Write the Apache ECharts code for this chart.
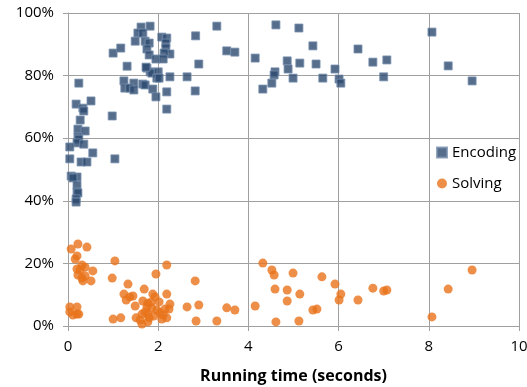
<!DOCTYPE html>
<html>
<head>
<meta charset="utf-8">
<script src="https://cdn.jsdelivr.net/npm/echarts@6/dist/echarts.min.js"></script>
<style>
  html, body { margin: 0; padding: 0; background: #fff; }
  #chart { width: 527px; height: 387px; }
</style>
</head>
<body>
<div id="chart"></div>
<script>
// running time (s), share (%)
var encoding = [
  [1.62,95.5],[1.82,95.8],[1.55,93.6],[1.66,93.6],[1.49,91],[1.71,91],[1.80,90.4],[1.75,88.5],
  [1.80,86.6],[1.95,85.3],[2.08,92.3],[2.19,92],[2.17,90.4],[2.17,88.8],[2.26,86.9],[2.13,87.2],
  [2.11,85.3],[1.0,87.2],[1.17,88.8],[1.31,83],[2.83,92.7],[3.30,95.8],[2.90,83.7],[3.52,87.9],
  [3.70,87.5],[4.15,85.6],[1.75,82.4],[1.82,81.2],[1.86,80.8],[2.0,81.2],[1.97,79.2],[2.02,79.2],
  [2.26,79.6],[2.64,79.6],[1.24,78.3],[1.46,77.6],[1.66,77.3],[1.71,77],[1.26,76],[1.37,76],
  [1.46,75.4],[1.88,75.7],[2.19,74.8],[2.82,75.1],[1.95,73.2],[2.19,69.3],[0.98,67.1],[1.04,53.4],
  [0.24,77.6],[0.18,70.9],[0.33,69.6],[0.35,68.7],[0.51,71.9],[0.27,65.8],[0.22,62.9],[0.38,62.3],
  [0.22,60.4],[0.24,59.7],[0.20,58.5],[0.35,58.1],[0.04,57.2],[0.55,55.3],[0.04,53.4],[0.29,52.4],
  [0.42,52.4],[0.07,47.9],[0.20,47.6],[0.11,47.3],[0.20,45],[0.20,42.8],[0.22,42.5],[0.18,40.6],
  [0.18,39.6],[1.73,82.7],
  [4.61,96.2],[5.12,95.2],[5.43,89.5],[4.86,84.7],[5.14,84],[5.50,83.7],[4.88,82.1],[4.59,81.2],
  [4.57,80.2],[4.99,79.2],[5.65,79.2],[5.92,82.1],[6.01,78.9],[6.05,77.6],[6.43,88.5],[6.76,84.3],
  [7.07,85],[7.0,79.6],[8.07,93.9],[8.43,83.1],[8.96,78.3],[4.52,77.6],[4.32,75.7]
];
var solving = [
  [0.07,24.6],[0.22,26.2],[0.42,25.2],[0.20,22.4],[0.16,21.4],[0.31,19.5],[0.38,18.8],[0.20,18.2],
  [0.27,17.9],[0.55,17.6],[0.22,16.3],[0.38,16],[0.31,15.3],[0.33,14.4],[0.51,14.4],[1.04,20.8],
  [0.98,15.3],[2.19,19.5],[1.95,16.6],[1.33,13.4],[1.69,11.8],[2.82,14.4],[1.24,10.2],[1.44,9.6],
  [1.37,9.3],[1.88,10.2],[1.93,9.3],[2.19,10.2],[1.29,8.3],[1.66,8],[1.77,7.3],[2.02,7.7],
  [2.26,7],[1.49,6.4],[1.75,6.1],[1.86,5.8],[1.97,5.1],[2.15,5.4],[2.24,5.4],[2.64,6.1],
  [2.90,6.7],[3.52,5.8],[3.70,5.1],[4.15,6.4],[0.04,6.1],[0.20,6.1],[0.04,4.5],[0.20,3.8],
  [0.24,3.8],[0.11,3.5],[1.71,4.5],[1.77,3.8],[1.64,3.8],[2.04,4.2],[2.11,3.5],[1.51,2.6],
  [1.60,1.9],[1.77,1.3],[1.64,0.6],[1.0,2.2],[1.17,2.6],[2.08,2.2],[2.19,2.6],[2.84,1.6],
  [3.30,1.6],[1.84,7.6],[1.80,2.6],[1.90,3.2],
  [4.32,20.1],[4.52,17.9],[4.57,16.3],[4.99,16.9],[5.63,15.7],[5.92,13.4],[4.59,11.8],[4.86,11.5],
  [5.14,10.2],[6.05,10.2],[4.86,8],[6.01,8.3],[6.43,8.3],[6.76,12.1],[7.0,11.2],[7.07,11.5],
  [5.43,5.1],[5.52,5.4],[4.61,1.3],[5.12,1.6],[8.07,2.9],[8.43,11.8],[8.96,17.9]
];
var seriesNames = ['Encoding', 'Solving'];

var chart = echarts.init(document.getElementById('chart'));
var gridColor = '#a0a0a0';
var font = 'Open Sans';
chart.setOption({
  animation: false,
  grid: { left: 68, right: 8, top: 13, bottom: 61, outerBoundsMode: 'none' },
  legend: {
    orient: 'vertical',
    left: 431,
    top: 140,
    itemWidth: 10,
    itemHeight: 10,
    itemGap: 16,
    data: seriesNames,
    textStyle: { fontFamily: font, fontSize: 15, color: '#000' }
  },
  xAxis: {
    type: 'value', min: 0, max: 10, interval: 2,
    name: 'Running time (seconds)', nameLocation: 'middle', nameGap: 42,
    nameTextStyle: { fontFamily: font, fontSize: 16, fontWeight: 'bold', color: '#000' },
    axisLine: { lineStyle: { color: gridColor } },
    axisTick: { show: true, length: 5, lineStyle: { color: gridColor } },
    axisLabel: { margin: 13, fontFamily: font, fontSize: 15, color: '#000' },
    splitLine: { lineStyle: { color: gridColor, width: 1 } }
  },
  yAxis: {
    type: 'value', min: 0, max: 100, interval: 20,
    axisLine: { show: true, lineStyle: { color: gridColor } },
    axisTick: { show: true, length: 5, lineStyle: { color: gridColor } },
    axisLabel: { margin: 14, formatter: '{value}%', fontFamily: font, fontSize: 15, color: '#000' },
    splitLine: { lineStyle: { color: gridColor, width: 1 } }
  },
  series: [
    {
      name: seriesNames[0], type: 'scatter', symbol: 'rect', symbolSize: 8,
      data: encoding,
      itemStyle: { color: '#2c4a6f', borderColor: '#7890ae', borderWidth: 1 }
    },
    {
      name: seriesNames[1], type: 'scatter', symbol: 'circle', symbolSize: 9,
      data: solving,
      itemStyle: { color: '#e8731a' }
    }
  ]
});
</script>
</body>
</html>
